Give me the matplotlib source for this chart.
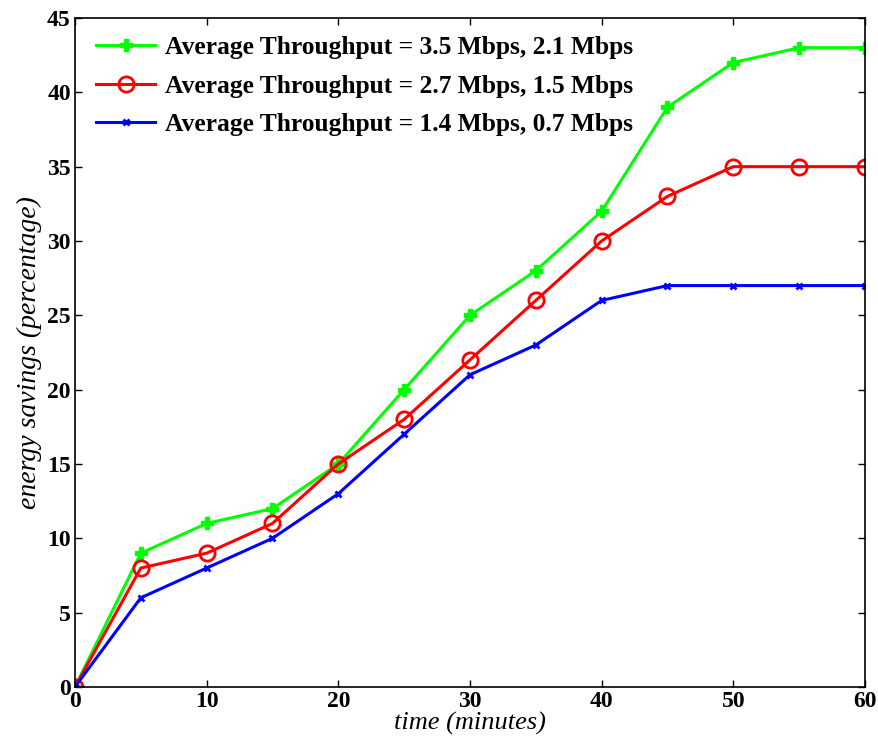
import matplotlib
matplotlib.use("Agg")
import matplotlib.pyplot as plt

time = [0, 5, 10, 15, 20, 25, 30, 35, 40, 45, 50, 55, 60]
green = [0, 9, 11, 12, 15, 20, 25, 28, 32, 39, 42, 43, 43]
red = [0, 8, 9, 11, 15, 18, 22, 26, 30, 33, 35, 35, 35]
blue = [0, 6, 8, 10, 13, 17, 21, 23, 26, 27, 27, 27, 27]
labels = ["Average Throughput = 3.5 Mbps, 2.1 Mbps",
          "Average Throughput = 2.7 Mbps, 1.5 Mbps",
          "Average Throughput = 1.4 Mbps, 0.7 Mbps"]

plt.rcParams['font.family'] = ['Liberation Serif', 'DejaVu Serif']

fig = plt.figure(figsize=(8.79, 7.49), dpi=100)
ax = fig.add_axes([0.0853, 0.0828, 0.8987, 0.8932])

ax.plot(time, green, color='#00ff00', lw=2.2, marker='P', ms=8, mew=1, label=labels[0])
ax.plot(time, red, color='#ff0000', lw=2.2, marker='o', ms=11, mfc='none', mew=2, label=labels[1])
ax.plot(time, blue, color='#0000ff', lw=2.2, marker='x', ms=5, mew=2, label=labels[2])

ax.set_xlim(0, 60)
ax.set_ylim(0, 45)
ax.set_xticks(range(0, 61, 10))
ax.set_yticks(range(0, 46, 5))
ax.tick_params(direction='in', top=True, right=True, labelsize=17, length=5, width=1, pad=3)
for t in ax.get_xticklabels() + ax.get_yticklabels():
    t.set_fontweight('bold')
for s in ax.spines.values():
    s.set_linewidth(1.2)

ax.set_xlabel("time (minutes)", fontsize=19, style='italic', labelpad=0)
ax.set_ylabel("energy savings (percentage)", fontsize=20, style='italic', labelpad=4)

leg = ax.legend(loc='upper left', frameon=False, prop={'weight': 'bold', 'size': 18.4},
                handlelength=2.3, handletextpad=0.4, labelspacing=0.6,
                bbox_to_anchor=(0.014, 0.988), borderaxespad=0.0, borderpad=0.4)

fig.savefig("out.png", dpi=100)
